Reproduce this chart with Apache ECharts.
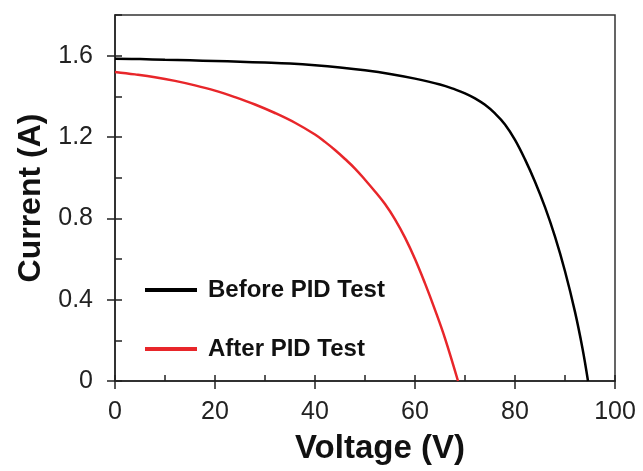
<!DOCTYPE html>
<html lang="en">
<head>
    <meta charset="UTF-8">
    <title>I-V curve before and after PID test</title>
    <script type="text/javascript" src="https://cdn.jsdelivr.net/npm/echarts@6/dist/echarts.min.js"></script>
</head>
<body style="margin:0">
    <div id="main" style="width: 643px; height:471px;"></div>
    <script type="text/javascript">

// I-V readings (voltage in V, current in A)
var beforeV = [0, 5, 10, 15, 20, 25, 30, 35, 40, 45, 50, 55, 60, 65, 68, 70, 72, 74, 76, 78, 80, 82, 84, 86, 88, 90, 92, 93.5, 94.6];
var beforeI = [1.585, 1.583, 1.580, 1.577, 1.574, 1.570, 1.566, 1.561, 1.553, 1.542, 1.528, 1.510, 1.487, 1.458, 1.434, 1.415, 1.39, 1.358, 1.316, 1.262, 1.186, 1.09, 0.98, 0.855, 0.71, 0.54, 0.34, 0.16, 0];

var afterV = [0, 4, 8, 12, 16, 20, 24, 28, 32, 36, 40, 42, 44, 46, 48, 50, 52, 54, 56, 58, 60, 62, 64, 66, 68.6];
var afterI = [1.52, 1.508, 1.494, 1.476, 1.454, 1.428, 1.396, 1.36, 1.318, 1.27, 1.212, 1.176, 1.136, 1.092, 1.045, 0.99, 0.932, 0.87, 0.795, 0.705, 0.6, 0.48, 0.35, 0.21, 0];

var yTicks = [0, 0.4, 0.8, 1.2, 1.6];
var xTicks = [0, 20, 40, 60, 80, 100];

function pairs(xs, ys) {
    return xs.map(function (x, i) { return [x, ys[i]]; });
}

var chartDom = document.getElementById('main');
var myChart = echarts.init(chartDom);
var option;

var font = 'Liberation Sans, Arial, sans-serif';

option = {
    animation: false,
    grid: {
        left: 115, right: 28, top: 15, bottom: 90,
        show: true, borderColor: '#333', borderWidth: 1.5
    },
    legend: {
        orient: 'vertical',
        left: 145,
        top: 278,
        padding: 0,
        itemWidth: 52,
        itemHeight: 4,
        itemGap: 35,
        icon: 'rect',
        textStyle: { fontFamily: font, fontWeight: 'bold', fontSize: 24, color: '#111', padding: [0, 0, 0, 6] },
        data: ['Before PID Test', 'After PID Test']
    },
    xAxis: [{
        type: 'value', min: 0, max: 100, position: 'bottom',
        name: 'Voltage (V)', nameLocation: 'middle', nameGap: 51,
        nameTextStyle: { fontFamily: font, fontWeight: 'bold', fontSize: 33, color: '#111', padding: [0, 0, 0, 30] },
        splitLine: { show: false },
        axisLine: { lineStyle: { color: '#222', width: 1.5 } },
        axisTick: { customValues: xTicks, inside: false, length: 8, lineStyle: { color: '#222', width: 1.5 } },
        axisLabel: { customValues: xTicks, margin: 19, fontFamily: font, fontSize: 25, color: '#222' }
    }, {
        type: 'value', min: 0, max: 100, interval: 10, position: 'bottom',
        splitLine: { show: false },
        axisLine: { show: false },
        axisTick: { inside: true, length: 6, lineStyle: { color: '#222', width: 1.5 } },
        axisLabel: { show: false }
    }],
    yAxis: [{
        type: 'value', min: 0, max: 1.8, position: 'left',
        name: 'Current (A)', nameLocation: 'middle', nameGap: 66,
        nameTextStyle: { fontFamily: font, fontWeight: 'bold', fontSize: 32, color: '#111' },
        splitLine: { show: false },
        axisLine: { lineStyle: { color: '#222', width: 1.5 } },
        axisTick: { customValues: yTicks, inside: false, length: 8, lineStyle: { color: '#222', width: 1.5 } },
        axisLabel: { customValues: yTicks, margin: 22, fontFamily: font, fontSize: 25, color: '#222' }
    }, {
        type: 'value', min: 0, max: 1.8, interval: 0.2, position: 'left',
        splitLine: { show: false },
        axisLine: { show: false },
        axisTick: { inside: true, length: 7, lineStyle: { color: '#222', width: 1.5 } },
        axisLabel: { show: false }
    }],
    series: [
        {
            name: 'Before PID Test',
            type: 'line',
            xAxisIndex: 0, yAxisIndex: 0,
            smooth: 0.4,
            symbol: 'none',
            color: '#000',
            lineStyle: { color: '#000', width: 2.5 },
            data: pairs(beforeV, beforeI)
        },
        {
            name: 'After PID Test',
            type: 'line',
            xAxisIndex: 0, yAxisIndex: 0,
            smooth: 0.4,
            symbol: 'none',
            color: '#e8262a',
            lineStyle: { color: '#e8262a', width: 2.5 },
            data: pairs(afterV, afterI)
        }
    ]
};

option && myChart.setOption(option);
    </script>
</body>
</html>
